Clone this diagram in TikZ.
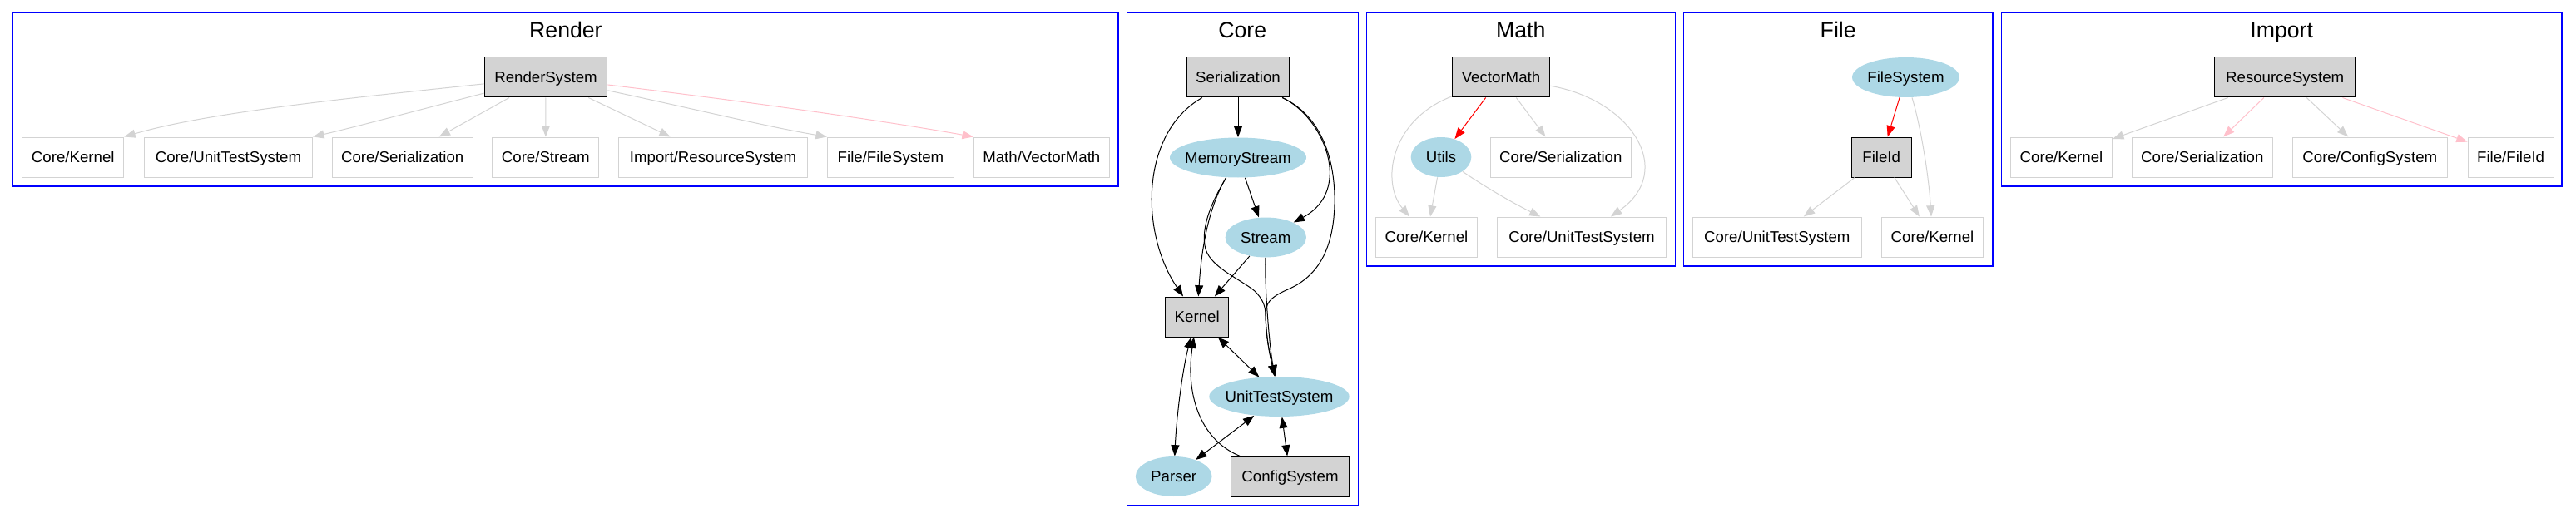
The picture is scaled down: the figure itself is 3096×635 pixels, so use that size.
\documentclass[tikz,border=0pt]{standalone}
\usepackage{fontspec}
\setmainfont{Liberation Sans}
\usetikzlibrary{arrows.meta,shapes.geometric}
\definecolor{lgray}{HTML}{D3D3D3}
\definecolor{lblue}{HTML}{ADD8E6}
\definecolor{gpink}{HTML}{FFC0CB}
\definecolor{cblue}{HTML}{0000FF}
\definecolor{gred}{HTML}{FF0000}
\begin{document}
\begin{tikzpicture}[x=0.75pt,y=-0.75pt,
  nd/.style={font=\fontsize{14}{17}\selectfont, text height=10pt, text depth=0pt,
    minimum height=36pt, inner xsep=7.92pt, inner ysep=0pt, line width=0.75pt},
  box/.style={nd, rectangle, draw=black, fill=lgray},
  ext/.style={nd, rectangle, draw=lgray, fill=white},
  ell/.style={nd, ellipse, draw=none, fill=lblue, inner sep=0pt},
  cluster/.style={draw=cblue, line width=1pt},
  ctitle/.style={font=\fontsize{20}{24}\selectfont, anchor=base, inner sep=0pt},
  tip/.tip={Triangle[length=10pt,width=7.5pt]},
  be/.style={-tip, line width=0.75pt, draw=black},
  bd/.style={tip-tip, line width=0.75pt, draw=black},
  ge/.style={-tip, line width=0.75pt, draw=lgray},
  pe/.style={-tip, line width=0.75pt, draw=gpink},
  re/.style={-tip, line width=0.75pt, draw=gred}
]
\useasboundingbox (0,0) rectangle (3096,635);

% ---------------- clusters ----------------
\draw[cluster] (15.7,15.7) rectangle (1344,224);
\draw[cluster] (1354.3,15.7) rectangle (1632.3,607.7);
\draw[cluster] (1642.3,15.7) rectangle (2013.3,320);
\draw[cluster] (2023.3,15.7) rectangle (2395,320);
\draw[cluster] (2405.3,15.7) rectangle (3079,224);

\node[ctitle] (tRender) at (679.9,46) {Render};
\node[ctitle] (tCore) at (1493.3,46) {Core};
\node[ctitle] (tMath) at (1827.8,46) {Math};
\node[ctitle] (tFile) at (2209.2,46) {File};
\node[ctitle] (tImport) at (2742.2,46) {Import};

% ---------------- Render ----------------
\node[box, minimum width=110.8pt] (rs) at (656,93) {RenderSystem};
\node[ext, minimum width=91.6pt] (r1) at (87.8,189) {Core/Kernel};
\node[ext, minimum width=151.8pt] (r2) at (274.5,189) {Core/UnitTestSystem};
\node[ext, minimum width=126.5pt] (r3) at (483.7,189) {Core/Serialization};
\node[ext, minimum width=96.2pt] (r4) at (655.8,189) {Core/Stream};
\node[ext, minimum width=170.5pt] (r5) at (857,189) {Import/ResourceSystem};
\node[ext, minimum width=114.3pt] (r6) at (1070.5,189) {File/FileSystem};
\node[ext, minimum width=122.3pt] (r7) at (1251.8,189) {Math/VectorMath};

\draw[ge] (rs) .. controls (420,118) and (250,135) .. (r1.north east);
\draw[ge] (rs) .. controls (520,128) and (430,152) .. (r2.north east);
\draw[ge] (rs) -- (r3);
\draw[ge] (rs) -- (r4);
\draw[ge] (rs) -- (r5);
\draw[ge] (rs) .. controls (830,130) and (920,152) .. (r6.north west);
\draw[pe] (rs) .. controls (880,120) and (1050,143) .. (r7.north west);

% ---------------- Core ----------------
\node[box, minimum width=92.5pt] (ser) at (1488,93) {Serialization};
\node[ell, minimum width=123pt] (ms) at (1488,189.5) {\makebox[0pt]{MemoryStream}};
\node[ell, minimum width=73pt] (st) at (1521.3,285.5) {\makebox[0pt]{Stream}};
\node[box, minimum width=57pt] (ke) at (1438.7,381) {Kernel};
\node[ell, minimum width=126.3pt] (uts) at (1537.5,477) {\makebox[0pt]{UnitTestSystem}};
\node[ell, minimum width=68.8pt] (pa) at (1410.7,573) {\makebox[0pt]{Parser}};
\node[box, minimum width=106.7pt] (cs) at (1550.5,573) {ConfigSystem};

\draw[be] (ser) -- (ms);
\draw[be] (ser) .. controls (1370,160) and (1370,280) .. (ke);
\draw[be] (ser) .. controls (1590,140) and (1628,228) .. (st);
\draw[be] (ser) .. controls (1590,140) and (1605,195) .. (1604,245)
  .. controls (1603,290) and (1590,330) .. (1548,348)
  .. controls (1525,358) and (1521,365) .. (1521,380)
  .. controls (1522,410) and (1527,430) .. (uts);
\draw[be] (ms) -- (st);
\draw[be] (ms) .. controls (1452,250) and (1444,300) .. (ke);
\draw[be] (ms) .. controls (1452,250) and (1445,275) .. (1448,295)
  .. controls (1451,320) and (1490,335) .. (1508,350)
  .. controls (1518,360) and (1521,368) .. (1521,380)
  .. controls (1522,410) and (1527,430) .. (uts);
\draw[be] (st) .. controls (1520,350) and (1526,420) .. (uts);
\draw[be] (st) -- (ke);
\draw[bd] (ke) -- (uts);
\draw[bd] (ke) .. controls (1422,440) and (1414,500) .. (pa);
\draw[be] (cs) .. controls (1440,528) and (1425,470) .. (ke);
\draw[bd] (uts) -- (pa);
\draw[bd] (uts) -- (cs);

% ---------------- Math ----------------
\node[box, minimum width=88.3pt] (vm) at (1804,93) {VectorMath};
\node[ell, minimum width=54.5pt] (ut) at (1732,189) {\makebox[0pt]{Utils}};
\node[ext, minimum width=126.5pt] (mser) at (1875.8,189) {Core/Serialization};
\node[ext, minimum width=91.6pt] (mke) at (1714.5,285) {Core/Kernel};
\node[ext, minimum width=151.8pt] (muts) at (1901,285) {Core/UnitTestSystem};

\draw[re] (vm) -- (ut);
\draw[ge] (vm) -- (mser);
\draw[ge] (vm) .. controls (1670,145) and (1660,220) .. (mke);
\draw[ge] (vm) .. controls (1960,120) and (2015,205) .. (muts);
\draw[ge] (ut) -- (mke);
\draw[ge] (ut) .. controls (1790,228) and (1820,245) .. (muts);

% ---------------- File ----------------
\node[ell, minimum width=96.7pt] (fs) at (2290.5,93) {\makebox[0pt]{FileSystem}};
\node[box, minimum width=54.2pt] (fid) at (2261.2,189) {FileId};
\node[ext, minimum width=151.8pt] (futs) at (2135.8,285) {Core/UnitTestSystem};
\node[ext, minimum width=91.6pt] (fke) at (2322.5,285) {Core/Kernel};

\draw[re] (fs) -- (fid);
\draw[ge] (fs) .. controls (2308,150) and (2318,210) .. (fke);
\draw[ge] (fid) -- (futs);
\draw[ge] (fid) -- (fke);

% ---------------- Import ----------------
\node[box, minimum width=126.5pt] (rsys) at (2746.2,93) {ResourceSystem};
\node[ext, minimum width=91.6pt] (i1) at (2477.5,189) {Core/Kernel};
\node[ext, minimum width=126.5pt] (i2) at (2646.8,189) {Core/Serialization};
\node[ext, minimum width=139.9pt] (i3) at (2848.3,189) {Core/ConfigSystem};
\node[ext, minimum width=77.3pt] (i4) at (3017.6,189) {File/FileId};

\draw[ge] (rsys) -- (i1);
\draw[pe] (rsys) -- (i2);
\draw[ge] (rsys) -- (i3);
\draw[pe] (rsys) -- (i4);
\end{tikzpicture}
\end{document}
